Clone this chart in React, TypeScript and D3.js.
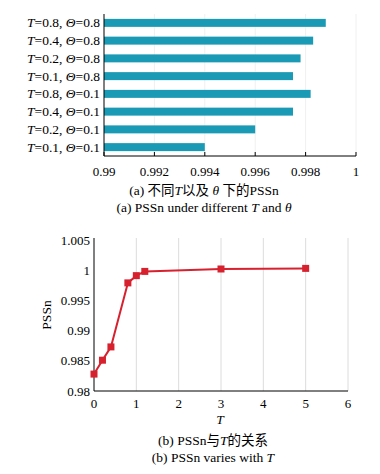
import React from "react";
import * as d3 from "d3";

const barT = [0.8, 0.4, 0.2, 0.1, 0.8, 0.4, 0.2, 0.1];
const barTheta = [0.8, 0.8, 0.8, 0.8, 0.1, 0.1, 0.1, 0.1];
const barValues = [0.9988, 0.9983, 0.9978, 0.9975, 0.9982, 0.9975, 0.996, 0.994];
const barTicks = [0.99, 0.992, 0.994, 0.996, 0.998, 1];

const lineT = [0, 0.2, 0.4, 0.8, 1, 1.2, 3, 5];
const linePSSn = [0.9828, 0.9851, 0.9873, 0.9979, 0.9991, 0.9998, 1.0002, 1.0003];
const lineXTicks = [0, 1, 2, 3, 4, 5, 6];
const lineYTicks = [0.98, 0.985, 0.99, 0.995, 1, 1.005];

const FONT = "'Liberation Serif', 'Times New Roman', serif";
const CJK = "'Liberation Serif', 'Noto Sans CJK SC', serif";
const BAR = "#1a9ab5";
const RED = "#d7212f";

const fmt = (d: number) => String(+d.toFixed(3));

export default function App() {
  const xa = d3.scaleLinear().domain([0.99, 1]).range([104, 356]);
  const ya = d3
    .scaleBand<number>()
    .domain(d3.range(barValues.length))
    .range([14, 156])
    .paddingInner(0.55)
    .paddingOuter(0.275);

  const xb = d3.scaleLinear().domain([0, 6]).range([94, 348]);
  const yb = d3.scaleLinear().domain([0.98, 1.005]).range([391, 240]);
  const pts = lineT.map((t, i) => [t, linePSSn[i]] as [number, number]);
  const line = d3
    .line<[number, number]>()
    .x((d) => xb(d[0]))
    .y((d) => yb(d[1]));

  return (
    <svg
      width={380}
      height={474}
      style={{ position: "absolute", left: 0, top: 0, background: "#fff" }}
      fontFamily={FONT}
      fontSize={13}
    >
      <rect width={380} height={474} fill="#fff" />
      {/* Top chart */}
      {barTicks.slice(1).map((t) => (
        <line key={"g" + t} x1={xa(t)} x2={xa(t)} y1={14} y2={156} stroke="#f0f0f0" />
      ))}
      {barValues.map((v, i) => (
        <rect
          key={"b" + i}
          x={xa(0.99)}
          y={ya(i)!}
          width={xa(v) - xa(0.99)}
          height={ya.bandwidth()}
          fill={BAR}
        />
      ))}
      <line x1={104} x2={104} y1={14} y2={156} stroke="#000" />
      <line x1={104} x2={356} y1={156} y2={156} stroke="#000" />
      {barTicks.map((t) => (
        <g key={"t" + t}>
          <line x1={xa(t)} x2={xa(t)} y1={152} y2={156} stroke="#000" />
          <text x={xa(t)} y={176} textAnchor="middle">
            {fmt(t)}
          </text>
        </g>
      ))}
      {barValues.map((_, i) => (
        <text key={"l" + i} x={100} y={ya(i)! + ya.bandwidth() / 2 + 4.5} textAnchor="end" fontSize={13.5}>
          <tspan fontStyle="italic">T</tspan>={barT[i]}, <tspan fontStyle="italic">Θ</tspan>={barTheta[i]}
        </text>
      ))}
      <text x={204} y={194.5} textAnchor="middle" fontFamily={CJK} fontSize={13.5}>
        (a) 不同<tspan fontStyle="italic">T</tspan>以及 <tspan fontStyle="italic">θ</tspan> 下的PSSn
      </text>
      <text x={204} y={211.5} textAnchor="middle" fontSize={13.5}>
        (a) PSSn under different <tspan fontStyle="italic">T</tspan> and <tspan fontStyle="italic">θ</tspan>
      </text>

      {/* Bottom chart */}
      {lineXTicks.slice(1).map((t) => (
        <line key={"bg" + t} x1={xb(t)} x2={xb(t)} y1={238} y2={391} stroke="#dcdcdc" />
      ))}
      <line x1={94} x2={94} y1={238} y2={391} stroke="#000" />
      <line x1={94} x2={348} y1={391} y2={391} stroke="#000" />
      {lineXTicks.map((t) => (
        <text key={"xt" + t} x={xb(t)} y={407.5} textAnchor="middle">
          {t}
        </text>
      ))}
      {lineYTicks.map((t) => (
        <text key={"yt" + t} x={90} y={yb(t) + 4.5} textAnchor="end">
          {fmt(t)}
        </text>
      ))}
      <path d={line(pts) ?? ""} fill="none" stroke={RED} strokeWidth={2} strokeLinejoin="round" />
      {pts.map((p, i) => (
        <rect key={"m" + i} x={xb(p[0]) - 3.5} y={yb(p[1]) - 3.5} width={7} height={7} fill={RED} />
      ))}
      <text x={220} y={423.5} textAnchor="middle" fontStyle="italic" fontSize={13.5}>
        T
      </text>
      <text transform="translate(51,315) rotate(-90)" textAnchor="middle" fontSize={13.5}>
        PSSn
      </text>
      <text x={213} y={444.5} textAnchor="middle" fontFamily={CJK} fontSize={13.5}>
        (b) PSSn与<tspan fontStyle="italic">T</tspan>的关系
      </text>
      <text x={213} y={461.5} textAnchor="middle" fontSize={13.5}>
        (b) PSSn  varies with <tspan fontStyle="italic">T</tspan>
      </text>
    </svg>
  );
}
